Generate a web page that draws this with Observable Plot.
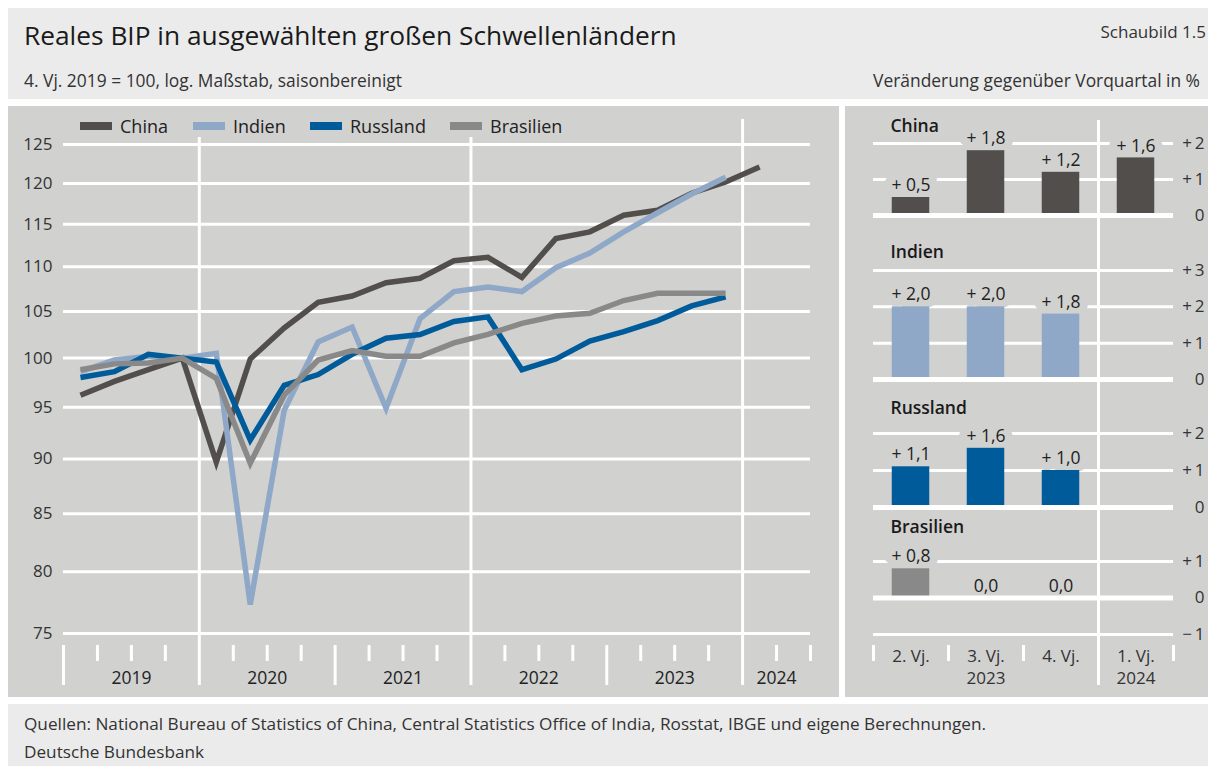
<!DOCTYPE html>
<html><head><meta charset="utf-8">
<script src="https://cdn.jsdelivr.net/npm/d3@7"></script>
<script src="https://cdn.jsdelivr.net/npm/@observablehq/plot@0.6"></script>
<style>
body{margin:0;background:#fff;font-family:"Open Sans",sans-serif;color:#222;}
#root{position:relative;width:1216px;height:766px;overflow:hidden;background:#fff;}
.abs{position:absolute;}
.bg1{background:#ebebeb;}
.bg2{background:#d1d1d0;}
.txt{position:absolute;white-space:nowrap;line-height:20px;}
.legend-item{position:absolute;top:116px;display:flex;align-items:center;font-size:18px;line-height:20px;color:#222;white-space:nowrap;}
.legend-item .sw{width:32px;height:8px;margin-right:8px;}
svg{overflow:visible;}
</style></head><body><div id="root"></div><script>
// ---------- Data ----------
const quarters = ["2019 Q1","2019 Q2","2019 Q3","2019 Q4","2020 Q1","2020 Q2","2020 Q3","2020 Q4",
  "2021 Q1","2021 Q2","2021 Q3","2021 Q4","2022 Q1","2022 Q2","2022 Q3","2022 Q4",
  "2023 Q1","2023 Q2","2023 Q3","2023 Q4","2024 Q1"];
const seriesNames = ["China","Indien","Russland","Brasilien"];
const seriesColors = ["#524e4b","#8fa8c8","#005b9a","#898989"];
const china     = [96.2, 97.6, 98.8, 100.0, 89.7, 99.9, 103.2, 106.0, 106.7, 108.2, 108.7, 110.7, 111.1, 108.8, 113.3, 114.1, 116.1, 116.7, 118.8, 120.2, 122.1];
const indien    = [98.6, 99.8, 100.2, 100.0, 100.5, 77.3, 94.7, 101.7, 103.3, 94.9, 104.2, 107.2, 107.7, 107.2, 109.9, 111.6, 114.1, 116.4, 118.7, 120.8, null];
const russland  = [98.0, 98.6, 100.4, 100.0, 99.6, 91.8, 97.2, 98.3, 100.4, 102.1, 102.5, 103.9, 104.4, 98.8, 99.9, 101.8, 102.8, 104.0, 105.6, 106.6, null];
const brasilien = [98.8, 99.4, 99.5, 100.0, 97.9, 89.6, 96.2, 99.8, 100.8, 100.2, 100.2, 101.6, 102.5, 103.7, 104.5, 104.8, 106.2, 107.0, 107.0, 107.0, null];
const yearLabels = ["2019","2020","2021","2022","2023","2024"];
const yTicks = [75, 80, 85, 90, 95, 100, 105, 110, 115, 120, 125];

const barQuarters = ["2. Vj.","3. Vj.","4. Vj.","1. Vj."];
const barYears = ["", "2023", "", "2024"];
const chinaChange     = [0.5, 1.8, 1.2, 1.6];
const indienChange    = [2.0, 2.0, 1.8, null];
const russlandChange  = [1.1, 1.6, 1.0, null];
const brasilienChange = [0.8, 0.0, 0.0, null];

// ---------- Page scaffold ----------
const root = document.getElementById("root");
function box(cls, l, t, w, h){const d=document.createElement("div");d.className="abs "+cls;Object.assign(d.style,{left:l+"px",top:t+"px",width:w+"px",height:h+"px"});root.appendChild(d);return d;}
function txt(s, l, cy, size, opts={}){const d=document.createElement("div");d.className="txt";d.textContent=s;d.style.top=(cy-10)+"px";d.style.fontSize=size+"px";if(opts.right!=null){d.style.right=opts.right+"px";}else d.style.left=l+"px";if(opts.color)d.style.color=opts.color;if(opts.weight)d.style.fontWeight=opts.weight;root.appendChild(d);return d;}
box("bg1", 8, 8, 1200, 91);
box("bg2", 8, 106, 831, 591);
box("bg2", 845, 106, 363, 591);
box("bg1", 8, 704, 1200, 62);
txt("Reales BIP in ausgewählten großen Schwellenländern", 24, 35, 26.3, {color:"#1a1a1a"});
txt("Schaubild 1.5", 0, 32, 17, {right: 10, color:"#333"});
txt("4. Vj. 2019 = 100, log. Maßstab, saisonbereinigt", 24, 80, 17.4, {color:"#333"});
txt("Veränderung gegenüber Vorquartal in %", 0, 80, 17.4, {right: 16, color:"#333"});
txt("Quellen: National Bureau of Statistics of China, Central Statistics Office of India, Rosstat, IBGE und eigene Berechnungen.", 24, 724, 17.2, {color:"#333"});
txt("Deutsche Bundesbank", 24, 752, 17.2, {color:"#333"});

const FONT = '"Open Sans", sans-serif';
const WHITE = "#ffffff";
const PANEL_BG = "#d1d1d0";

// ---------- Left line chart ----------
const allSeries = [china, indien, russland, brasilien];
const rows = [];
allSeries.forEach((vals, s) => vals.forEach((v, i) => { if (v != null) rows.push({name: seriesNames[s], q: i + 0.5, v, label: quarters[i]}); }));
const nQ = 22; // axis spans 2019 Q1 .. 2024 Q2
const fullLines = [4, 12, 20];
const longTicks = [0, 8, 16];
const shortTicks = d3.range(0, nQ + 1).filter(t => t % 4 !== 0);
const yearCenters = yearLabels.map((y, k) => Math.min(k * 4 + 2, (k * 4 + nQ) / 2));

const left = Plot.plot({
  width: 831, height: 591,
  marginLeft: 55, marginRight: 29, marginTop: 38, marginBottom: 64,
  style: {background: "transparent", fontFamily: FONT, fontSize: "17px", color: "#333", overflow: "visible"},
  x: {domain: [0, nQ], axis: null},
  y: {type: "log", domain: [75, 125], axis: null},
  color: {domain: seriesNames, range: seriesColors},
  marks: [
    Plot.ruleY(yTicks, {stroke: WHITE, strokeWidth: 3}),
    Plot.ruleX(fullLines.slice(0, 2), {stroke: WHITE, strokeWidth: 3, insetTop: -7, insetBottom: -52}),
    Plot.ruleX(fullLines.slice(2), {stroke: WHITE, strokeWidth: 3, insetTop: -25, insetBottom: -52}),
    Plot.axisX({ticks: longTicks, tickSize: 40, dy: 12, tickFormat: () => "", label: null, stroke: WHITE, strokeWidth: 3, strokeOpacity: 1}),
    Plot.axisX({ticks: shortTicks, tickSize: 16, dy: 12, tickFormat: () => "", label: null, stroke: WHITE, strokeWidth: 3, strokeOpacity: 1}),
    Plot.text(yearLabels, {x: (d, i) => yearCenters[i], frameAnchor: "bottom", dy: 45, lineAnchor: "middle", text: d => d, fontSize: 17.5, fill: "#222"}),
    Plot.axisY({ticks: yTicks, tickSize: 0, tickPadding: 11, tickFormat: d3.format("d"), label: null, fontSize: 17, fill: "#333"}),
    Plot.line(rows, {x: "q", y: "v", z: "name", stroke: "name", strokeWidth: 5.5, strokeLinejoin: "miter", strokeLinecap: "butt", strokeMiterlimit: 6})
  ]
});
const lw = document.createElement("div"); lw.className = "abs"; lw.style.left = "8px"; lw.style.top = "106px";
lw.appendChild(left); root.appendChild(lw);

// legend
const legendLeft = [80, 193, 310, 450];
seriesNames.forEach((n, i) => {
  const it = document.createElement("div"); it.className = "legend-item"; it.style.left = legendLeft[i] + "px";
  const sw = document.createElement("div"); sw.className = "sw"; sw.style.background = seriesColors[i];
  const t = document.createElement("span"); t.textContent = n;
  it.appendChild(sw); it.appendChild(t); root.appendChild(it);
});

// ---------- Right bar panels ----------
const fmtChange = v => v === 0 ? "0,0" : (v > 0 ? "+ " : "− ") + d3.format(".1f")(Math.abs(v)).replace(".", ",");
const fmtTick = d => d > 0 ? "+\u2009" + d : d < 0 ? "−\u2009" + (-d) : "0";
const panels = [
  {name: "China",     values: chinaChange,     color: seriesColors[0], domain: [0, 2],  ticks: [0, 1, 2],    top: 106, frameTop: 143, frameBottom: 215, bottom: 232, titleDy: -17},
  {name: "Indien",    values: indienChange,    color: seriesColors[1], domain: [0, 3],  ticks: [0, 1, 2, 3], top: 232, frameTop: 270, frameBottom: 379, bottom: 390, titleDy: -18},
  {name: "Russland",  values: russlandChange,  color: seriesColors[2], domain: [0, 2],  ticks: [0, 1, 2],    top: 390, frameTop: 433, frameBottom: 507, bottom: 515, titleDy: -25},
  {name: "Brasilien", values: brasilienChange, color: seriesColors[3], domain: [-1, 1], ticks: [-1, 0, 1],   top: 515, frameTop: 561, frameBottom: 634, bottom: 697, titleDy: -34}
];
const nCat = barQuarters.length;
panels.forEach((p, k) => {
  const data = p.values.map((v, i) => ({i, v, q: barQuarters[i]})).filter(d => d.v != null);
  const mT = p.frameTop - p.top, mB = p.bottom - p.frameBottom;
  const isFirst = k === 0, isLast = k === panels.length - 1;
  const labelOpts = {x: d => d.i + 0.5, y: d => Math.max(0, d.v), dy: -12, text: d => fmtChange(d.v), fontSize: 17.5, lineAnchor: "middle"};
  const marks = [
    Plot.ruleY(p.ticks.filter(t => t !== 0), {stroke: WHITE, strokeWidth: 3}),
    // label knock-out behind the value labels (hides the gridlines there)
    Plot.text(data, {...labelOpts, fill: PANEL_BG, stroke: PANEL_BG, strokeWidth: 16}),
    Plot.ruleX([3], {stroke: WHITE, strokeWidth: 3, insetTop: isFirst ? -(mT - 14) : -mT, insetBottom: isLast ? -51 : -mB}),
    Plot.rectY(data, {x1: d => d.i + 0.25, x2: d => d.i + 0.75, y1: 0, y2: "v", fill: p.color}),
    Plot.ruleY([0], {stroke: WHITE, strokeWidth: 5}),
    Plot.text(data, {...labelOpts, fill: "#222"}),
    Plot.text([p.name], {frameAnchor: "top-left", dx: 17, dy: p.titleDy, lineAnchor: "middle", text: d => d, fontSize: 17.5, fontWeight: 600, fill: "#1a1a1a"}),
    Plot.text(p.ticks, {y: d => d, frameAnchor: "right", dx: 31, textAnchor: "end", lineAnchor: "middle", text: fmtTick, fontSize: 17, fill: "#333"})
  ];
  if (isLast) {
    marks.push(
      Plot.axisX({ticks: [0, 1, 2, 4], tickSize: 16, dy: 11, tickFormat: () => "", label: null, stroke: WHITE, strokeWidth: 3, strokeOpacity: 1}),
      Plot.text(barQuarters, {x: (d, i) => i + 0.5, frameAnchor: "bottom", dy: 22, text: d => d, fontSize: 17, fill: "#333", lineAnchor: "middle"}),
      Plot.text(barYears, {x: (d, i) => i + 0.5, frameAnchor: "bottom", dy: 44, text: d => d, fontSize: 17, fill: "#333", lineAnchor: "middle"})
    );
  }
  const chart = Plot.plot({
    width: 362, height: p.bottom - p.top,
    marginLeft: 27, marginRight: 35, marginTop: mT, marginBottom: mB,
    style: {background: "transparent", fontFamily: FONT, fontSize: "17px", color: "#333", overflow: "visible"},
    x: {domain: [0, nCat], axis: null},
    y: {domain: p.domain, axis: null},
    marks
  });
  const w = document.createElement("div"); w.className = "abs"; w.style.left = "846px"; w.style.top = p.top + "px";
  w.appendChild(chart); root.appendChild(w);
});
</script></body></html>
